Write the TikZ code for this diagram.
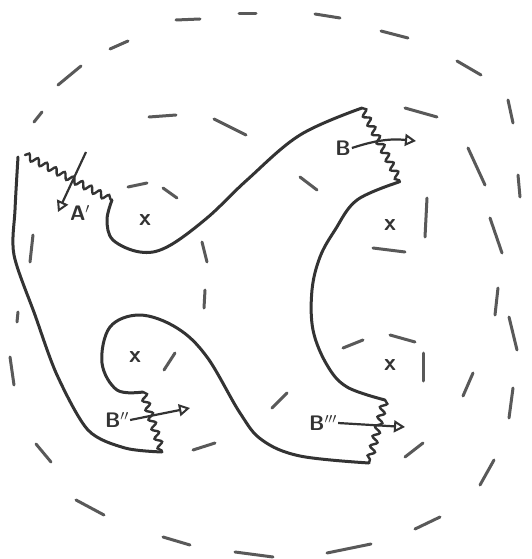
\documentclass[tikz,border=0pt]{standalone}
\usetikzlibrary{arrows.meta, decorations.pathmorphing}
\definecolor{pencil}{HTML}{333333}
\definecolor{lead}{HTML}{595959}
\tikzset{
  rim/.style={draw=pencil, line width=3pt, line cap=round, line join=round},
  cut/.style={draw=pencil, line width=2.4pt, line cap=round, decorate,
    decoration={snake, amplitude=3.2pt, segment length=10pt}},
  ring/.style={draw=lead, line width=3pt, line cap=round},
  flux/.style={draw=pencil, line width=2.2pt,
    -{Triangle[open, length=11pt, width=12pt, line width=2pt]}},
  tag/.style={font=\sffamily\bfseries\fontsize{21}{21}\selectfont, text=pencil, inner sep=1pt},
  pole/.style={font=\sffamily\bfseries\fontsize{24}{24}\selectfont, text=pencil, inner sep=0pt}
}

\begin{document}
\begin{tikzpicture}[x=1pt, y=-1pt]
  \useasboundingbox (0,0) rectangle (531,559);

  % ---- Dashed level lines -------------------------------------------------
  % outer ring
  \foreach \xa/\ya/\xb/\yb in {176/20/200/19, 239/14/256/14, 315/14/340/18,
      381/31/408/38, 457/61/481/75, 508/100/513/123, 518/175/520/197,
      509/317/517/350, 513/388/509/418, 494/460/480/485, 440/517/415/529,
      371/544/327/553, 273/557/235/552, 190/545/163/537, 104/515/76/500,
      51/462/36/444, 14/385/10/357, 17/322/18/312, 34/122/42/112,
      58/85/81/66, 110/49/128/41} {
    \draw[ring] (\xa,\ya) -- (\xb,\yb);
  }
  % inner rings round the poles
  \foreach \xa/\ya/\xb/\yb in {149/117/176/115, 214/119/246/135, 405/108/437/117,
      468/148/485/185, 490/218/502/253, 498/288/495/315, 473/373/463/396,
      300/177/317/190, 128/187/147/183, 163/188/177/198, 202/242/207/262,
      205/290/204/308, 175/353/164/370, 287/393/272/408, 193/450/215/443,
      427/198/425/237, 373/248/405/252, 343/348/363/340, 390/335/415/342,
      423/353/423/381, 423/443/405/457, 33/235/30/262} {
    \draw[ring] (\xa,\ya) -- (\xb,\yb);
  }

  % ---- Poles --------------------------------------------------------------
  \node[pole] (p1) at (145,220) {x};
  \node[pole] (p2) at (390,225) {x};
  \node[pole] (p3) at (135,357) {x};
  \node[pole] (p4) at (390,365) {x};

  % ---- Boundary of the region ---------------------------------------------
  \draw[rim] plot[smooth, tension=0.5] coordinates {(18,157) (15,210) (14,255)
    (35,315) (57,375) (88,430) (125,448) (162,452)};
  \draw[rim] plot[smooth, tension=0.6] coordinates {(143,392) (117,390) (102,363)
    (110,327) (140,315) (177,328) (207,357) (240,413) (262,440) (300,456) (369,463)};
  \draw[rim] plot[smooth, tension=0.6] coordinates {(385,400) (347,387) (327,365)
    (313,330) (312,290) (320,257) (335,230) (357,200) (399,182)};
  \draw[rim] plot[smooth, tension=0.6] coordinates {(362,108) (300,135) (247,180)
    (207,218) (167,247) (140,252) (113,240) (107,220) (112,200)};

  % cut lines
  \draw[cut] (25,155) -- (112,200);
  \draw[cut] (362,108) -- (400,182);
  \draw[cut] (143,392) -- (162,452);
  \draw[cut] (385,400) -- (369,463);

  % ---- Labels and arrows --------------------------------------------------
  \node[tag] (lA) at (80,213) {A$'$};
  \coordinate (aTail) at (86,152);
  \coordinate (aTip) at (58,212);
  \draw[flux] (aTail) -- (aTip);

  \node[tag] (lB) at (343,148) {B};
  \coordinate (bTip) at (416,141);
  \draw[flux] (lB.east) to[bend left=12] (bTip);

  \node[tag] (lB2) at (117,420) {B$''$};
  \coordinate (b2Tip) at (190,408);
  \draw[flux] (lB2.east) -- (b2Tip);

  \node[tag] (lB3) at (323,423) {B$'''$};
  \coordinate (b3Tip) at (405,427);
  \draw[flux] (lB3.east) -- (b3Tip);

\end{tikzpicture}
\end{document}
